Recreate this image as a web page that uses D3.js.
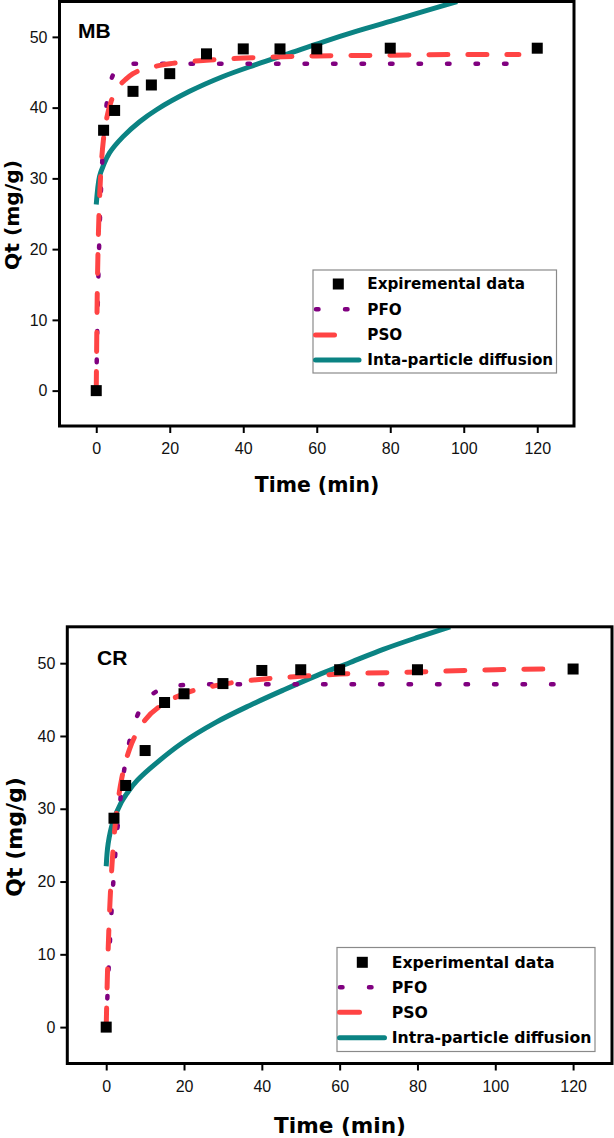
<!DOCTYPE html>
<html>
<head>
<meta charset="utf-8">
<script src="https://cdn.jsdelivr.net/npm/d3@7"></script>
<style>
body { margin: 0; background: #fff; }
svg text { font-family: "Liberation Sans", Arial, sans-serif; }
svg text.heavy { font-family: "DejaVu Sans", Verdana, sans-serif; font-weight: bold; }
</style>
</head>
<body>
<svg id="chart" width="614" height="1138"></svg>
<script>
// experimental points (both dyes sampled at same times)
var TIME = [0, 2, 5, 10, 15, 20, 30, 40, 50, 60, 80, 120];
var QT_MB = [0, 36.8, 39.6, 42.3, 43.2, 44.8, 47.6, 48.3, 48.3, 48.3, 48.4, 48.4];
var QT_CR = [0, 28.7, 33.2, 38.0, 44.6, 45.8, 47.2, 49.0, 49.1, 49.1, 49.1, 49.2];

// fitted curves
var PFO_T_MB = [0, 0.25, 0.5, 0.75, 1, 1.5, 2, 2.5, 3, 4, 5, 6, 8, 10, 20, 40, 60, 80, 100, 115];
var PFO_MB = [0, 7.8, 14.3, 19.7, 24.2, 31.0, 35.7, 38.9, 41.2, 43.8, 45.1, 45.7, 46.1, 46.2, 46.2, 46.2, 46.2, 46.2, 46.2, 46.2];
var PSO_T_MB = [0, 0.25, 0.5, 0.75, 1, 1.5, 2, 3, 4, 5, 6, 8, 10, 15, 20, 30, 40, 60, 80, 100, 115];
var PSO_MB = [0, 12.8, 20.2, 25.0, 28.4, 32.9, 35.7, 38.9, 40.8, 42.1, 42.9, 44.0, 44.8, 45.7, 46.2, 46.7, 47.0, 47.3, 47.4, 47.5, 47.5];
var IPD_T_MB = [0, 0.9, 2, 3.6, 7.3, 11.8, 16.4, 25.4, 34.5, 43.6, 52.7, 61.8, 70.9, 80, 89.1, 98.2];
var IPD_MB = [26.3, 30.3, 31.9, 33.6, 35.9, 38.0, 39.7, 42.3, 44.4, 46.1, 47.7, 49.3, 50.8, 52.2, 53.6, 55.0];

var PFO_T_CR = [0, 0.5, 1, 1.5, 2, 2.5, 3, 4, 5, 6, 7, 8, 10, 12, 15, 20, 25, 40, 60, 80, 100, 115];
var PFO_CR = [0, 6.6, 12.2, 17.1, 21.3, 24.9, 27.9, 32.9, 36.6, 39.3, 41.3, 42.8, 44.8, 45.8, 46.6, 47.0, 47.1, 47.1, 47.1, 47.1, 47.1, 47.1];
var PSO_T_CR = [0, 0.25, 0.5, 0.75, 1, 1.5, 2, 3, 4, 5, 6, 8, 10, 15, 20, 30, 40, 50, 60, 80, 100, 115];
var PSO_CR = [0, 5.9, 10.6, 14.4, 17.5, 22.4, 26.0, 30.9, 34.2, 36.5, 38.2, 40.6, 42.2, 44.5, 45.8, 47.1, 47.8, 48.2, 48.5, 48.8, 49.1, 49.2];
var IPD_T_CR = [0, 0.5, 1.75, 3.9, 5.2, 7.3, 11.2, 19.7, 28.3, 36.9, 45.5, 54.1, 62.7, 71.2, 79.8, 88.4];
var IPD_CR = [22.1, 25.2, 28.2, 30.9, 32.0, 33.5, 35.5, 39.1, 41.9, 44.2, 46.3, 48.3, 50.1, 51.9, 53.5, 55.0];

var X_TICKS = [0, 20, 40, 60, 80, 100, 120];
var Y_TICKS = [0, 10, 20, 30, 40, 50];
var LEGEND_MB = ['Expiremental data', 'PFO', 'PSO', 'Inta-particle diffusion'];
var LEGEND_CR = ['Experimental data', 'PFO', 'PSO', 'Intra-particle diffusion'];

var PURPLE = '#800080', RED = '#ff4444', TEAL = '#0b8383';

var svg = d3.select('#chart');

function zip(t, q){
	return t.map(function(d, i){ return [d, q[i]]; });
}

function drawPanel(p){
	var x = d3.scaleLinear().domain([-10, 130]).range([p.left, p.right]);
	var y = d3.scaleLinear().domain([-5, 55]).range([p.bottom, p.top]);
	var g = svg.append('g');

	g.append('clipPath').attr('id', 'clip-' + p.id)
		.append('rect')
		.attr('x', p.left).attr('y', p.top)
		.attr('width', p.right - p.left).attr('height', p.bottom - p.top);

	var xAxis = g.append('g')
		.attr('transform', 'translate(0,' + p.bottom + ')')
		.call(d3.axisBottom(x).tickValues(X_TICKS).tickSize(7).tickPadding(p.xPad));
	var yAxis = g.append('g')
		.attr('transform', 'translate(' + p.left + ',0)')
		.call(d3.axisLeft(y).tickValues(Y_TICKS).tickSize(7).tickPadding(5));
	[xAxis, yAxis].forEach(function(a){
		a.select('.domain').remove();
		a.selectAll('line').attr('stroke', '#000').attr('stroke-width', 2);
		a.selectAll('text').attr('font-size', 16).attr('fill', '#111')
			.style('font-family', '"Liberation Sans", Arial, sans-serif');
	});

	var line = d3.line()
		.x(function(d){ return x(d[0]); })
		.y(function(d){ return y(d[1]); })
		.curve(d3.curveMonotoneX);
	var smooth = d3.line()
		.x(function(d){ return x(d[0]); })
		.y(function(d){ return y(d[1]); })
		.curve(d3.curveCatmullRom.alpha(0.5));

	var curves = g.append('g').attr('clip-path', 'url(#clip-' + p.id + ')');

	curves.append('path').datum(zip(p.ipdT, p.ipd))
		.attr('d', smooth).attr('fill', 'none')
		.attr('stroke', TEAL).attr('stroke-width', 5);

	g.selectAll('rect.pt').data(zip(TIME, p.qt)).enter()
		.append('rect').attr('class', 'pt')
		.attr('x', function(d){ return x(d[0]) - 5.5; })
		.attr('y', function(d){ return y(d[1]) - 5.5; })
		.attr('width', 11).attr('height', 11)
		.attr('fill', '#000');

	curves.append('path').datum(zip(p.pfoT, p.pfo))
		.attr('d', line).attr('fill', 'none')
		.attr('stroke', PURPLE).attr('stroke-width', 4.5)
		.attr('stroke-linecap', 'round').attr('stroke-dasharray', '2.5,26');

	curves.append('path').datum(zip(p.psoT, p.pso))
		.attr('d', line).attr('fill', 'none')
		.attr('stroke', RED).attr('stroke-width', 5)
		.attr('stroke-linecap', 'round').attr('stroke-dasharray', '19,20');

	// frame
	g.append('rect')
		.attr('x', p.left).attr('y', p.top)
		.attr('width', p.right - p.left).attr('height', p.bottom - p.top)
		.attr('fill', 'none').attr('stroke', '#000').attr('stroke-width', 3);

	g.append('text')
		.attr('x', p.tagX).attr('y', p.tagY)
		.attr('font-size', 21).attr('font-weight', 'bold')
		.text(p.tag);

	// axis titles
	g.append('text').attr('class', 'heavy')
		.attr('x', p.xTitle[0]).attr('y', p.xTitle[1])
		.attr('text-anchor', 'middle')
		.attr('font-size', p.xSize)
		.text('Time (min)');
	g.append('text').attr('class', 'heavy')
		.attr('transform', 'translate(' + p.yTitle[0] + ',' + p.yTitle[1] + ') rotate(-90)')
		.attr('text-anchor', 'middle')
		.attr('font-size', p.ySize)
		.text('Qt (mg/g)');

	// legend
	var L = p.legend;
	var lg = g.append('g');
	lg.append('rect')
		.attr('x', L.x).attr('y', L.y).attr('width', L.w).attr('height', L.h)
		.attr('fill', '#fff').attr('stroke', '#8a8a8a').attr('stroke-width', 1.2);
	var rows = L.rows;
	lg.append('rect')
		.attr('x', L.sq - 5.5).attr('y', rows[0] - 5.5)
		.attr('width', 11).attr('height', 11).attr('fill', '#000');
	lg.append('line')
		.attr('x1', L.x + 3).attr('x2', L.x + 35).attr('y1', rows[1]).attr('y2', rows[1])
		.attr('stroke', PURPLE).attr('stroke-width', 4.5)
		.attr('stroke-linecap', 'round').attr('stroke-dasharray', '2.5,26.5');
	lg.append('line')
		.attr('x1', L.x + 2.5).attr('x2', L.x + L.pso).attr('y1', rows[2]).attr('y2', rows[2])
		.attr('stroke', RED).attr('stroke-width', 5).attr('stroke-linecap', 'round');
	lg.append('line')
		.attr('x1', L.x + 2.5).attr('x2', L.x + L.ipd).attr('y1', rows[3]).attr('y2', rows[3])
		.attr('stroke', TEAL).attr('stroke-width', 5).attr('stroke-linecap', 'round');
	lg.selectAll('text.lt').data(p.legendText).enter()
		.append('text').attr('class', 'lt heavy')
		.attr('x', L.tx)
		.attr('y', function(d, i){ return rows[i]; })
		.attr('dy', '0.36em')
		.attr('font-size', L.fs)
		.text(function(d){ return d; });
}

drawPanel({
	id: 'mb', left: 59.5, right: 574, top: 1.5, bottom: 426, xPad: 9.5,
	qt: QT_MB, pfoT: PFO_T_MB, pfo: PFO_MB, psoT: PSO_T_MB, pso: PSO_MB, ipdT: IPD_T_MB, ipd: IPD_MB,
	tag: 'MB', tagX: 78, tagY: 38,
	xSize: 20.4, ySize: 20.3, xTitle: [317, 492.4], yTitle: [19, 215],
	legendText: LEGEND_MB,
	legend: { x: 313, y: 270, w: 243.5, h: 103, sq: 338.3, rows: [284, 309.3, 335, 360], tx: 367.3, fs: 15.2, pso: 21.5, ipd: 46 }
});

drawPanel({
	id: 'cr', left: 67.3, right: 612, top: 626.8, bottom: 1063.5, xPad: 10.5,
	qt: QT_CR, pfoT: PFO_T_CR, pfo: PFO_CR, psoT: PSO_T_CR, pso: PSO_CR, ipdT: IPD_T_CR, ipd: IPD_CR,
	tag: 'CR', tagX: 97, tagY: 665,
	xSize: 21.6, ySize: 22, xTitle: [340, 1133], yTitle: [21.5, 837],
	legendText: LEGEND_CR,
	legend: { x: 337, y: 947.5, w: 258, h: 104, sq: 362.3, rows: [962.3, 987.3, 1012.3, 1037.7], tx: 391.7, fs: 15.7, pso: 22.5, ipd: 47.5 }
});
</script>
</body>
</html>
